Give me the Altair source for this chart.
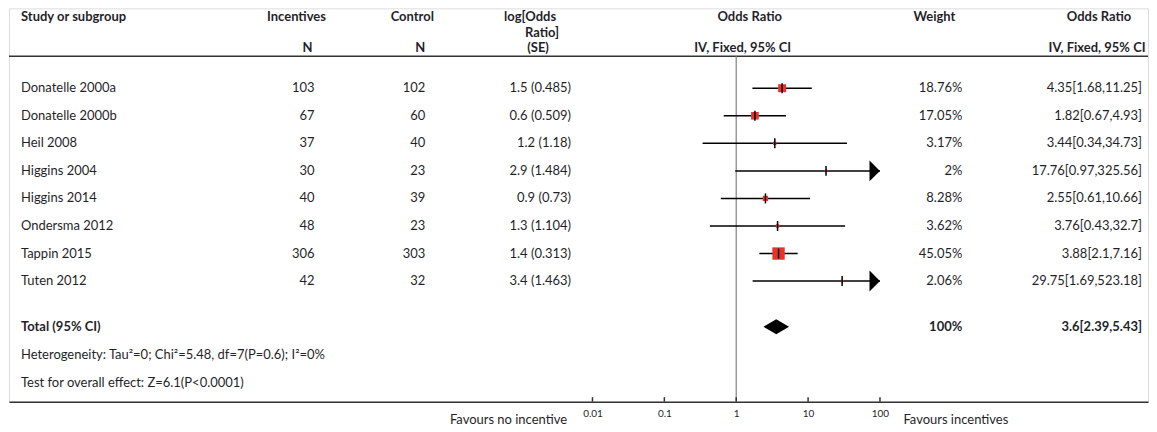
import altair as alt
import pandas as pd

# ---------------- data ----------------
studies = ["Donatelle 2000a", "Donatelle 2000b", "Heil 2008", "Higgins 2004",
           "Higgins 2014", "Ondersma 2012", "Tappin 2015", "Tuten 2012"]
n_incentives = [103, 67, 37, 30, 40, 48, 306, 42]
n_control = [102, 60, 40, 23, 39, 23, 303, 32]
log_or = [1.5, 0.6, 1.2, 2.9, 0.9, 1.3, 1.4, 3.4]
log_se = [0.485, 0.509, 1.18, 1.484, 0.73, 1.104, 0.313, 1.463]
weights = [18.76, 17.05, 3.17, 2, 8.28, 3.62, 45.05, 2.06]
or_est = [4.35, 1.82, 3.44, 17.76, 2.55, 3.76, 3.88, 29.75]
ci_low = [1.68, 0.67, 0.34, 0.97, 0.61, 0.43, 2.1, 1.69]
ci_high = [11.25, 4.93, 34.73, 325.56, 10.66, 32.7, 7.16, 523.18]

total_label = "Total (95% CI)"
total_weight = 100
total_est, total_low, total_high = 3.6, 2.39, 5.43
heterogeneity = "Heterogeneity: Tau²=0; Chi²=5.48, df=7(P=0.6); I²=0%"
overall = "Test for overall effect: Z=6.1(P<0.0001)"
axis_ticks = [0.01, 0.1, 1, 10, 100]
favours_left = "Favours no incentive"
favours_right = "Favours incentives"

# ---------------- layout ----------------
W, H = 1141, 394
FONT = "Lato"
FS = 13
TXT = "#1f1f2b"
RED = "#e8322b"
ROW_PX = 27.6
FIRST_PX = 80.0
y0 = -FIRST_PX / ROW_PX
y1 = y0 + H / ROW_PX
PX_DEC = 72.0
ONE_PX = 728.5
xa = -ONE_PX / PX_DEC
xb = xa + W / PX_DEC
AX_MAX = 100


def row_of(page_y):
    return (page_y - 8 - FIRST_PX) / ROW_PX


xs = alt.Scale(type="log", domain=[10 ** xa, 10 ** xb], nice=False)
ys = alt.Scale(domain=[y0, y1], reverse=True, nice=False, zero=False)
XAX = alt.Axis(values=axis_ticks, format="~g", title=None, ticks=False, grid=False,
               domain=True, domainColor="#333333", domainWidth=1.6,
               labelFont=FONT, labelFontSize=10, labelColor=TXT, labelPadding=7,
               labelFlush=False)

df = pd.DataFrame({
    "study": studies, "ninc": n_incentives, "nctl": n_control,
    "lor": [f"{a:g} ({b:g})" for a, b in zip(log_or, log_se)],
    "w": weights, "wlab": [f"{w:g}%" for w in weights],
    "est": or_est, "lo": ci_low, "hi": ci_high,
    "hi_c": [min(h, AX_MAX) for h in ci_high],
    "orlab": [f"{e:g}[{l:g},{h:g}]" for e, l, h in zip(or_est, ci_low, ci_high)],
    "row": list(range(len(studies))),
})

Y = alt.Y("row:Q", scale=ys, axis=None)


def text_layer(data, field, xpx, align="left", bold=False, size=FS, ycol="row"):
    return alt.Chart(data).mark_text(
        align=align, baseline="middle", font=FONT, fontSize=size,
        fontWeight="bold" if bold else "normal", color=TXT
    ).encode(x=alt.value(xpx), y=alt.Y(f"{ycol}:Q", scale=ys, axis=None),
             text=f"{field}:N")


layers = []

# header texts
h1, h2, h3 = row_of(17), row_of(33), row_of(48)
headers = [
    ("Study or subgroup", 12, "left", h1),
    ("Incentives", 288, "center", h1), ("N", 299, "center", h3),
    ("Control", 404, "center", h1), ("N", 412, "center", h3),
    ("log[Odds", 522, "center", h1), ("Ratio]", 534, "center", h2),
    ("(SE)", 530, "center", h3),
    ("Odds Ratio", 742, "center", h1), ("IV, Fixed, 95% CI", 735, "center", h3),
    ("Weight", 927, "center", h1),
    ("Odds Ratio", 1092, "center", h1), ("IV, Fixed, 95% CI", 1090, "center", h3),
]
for txt, xp, al, r in headers:
    layers.append(text_layer(pd.DataFrame({"t": [txt], "row": [r]}), "t", xp, al, bold=True))

# header separator line
hline_row = row_of(56)
layers.append(alt.Chart(pd.DataFrame({"row": [hline_row]})).mark_rule(
    color="#333333", strokeWidth=1.6).encode(x=alt.value(0), x2=alt.value(W), y=Y))

# null line at OR = 1
layers.append(alt.Chart(pd.DataFrame({"x": [1], "ya": [hline_row], "yb": [y1]})).mark_rule(
    color="#8a8a8a", strokeWidth=1.3).encode(
    x=alt.X("x:Q", scale=xs, axis=XAX), y=alt.Y("ya:Q", scale=ys, axis=None), y2="yb:Q"))

# study text columns
layers.append(text_layer(df, "study", 12, "left"))
layers.append(text_layer(df, "ninc", 306, "right"))
layers.append(text_layer(df, "nctl", 417, "right"))
layers.append(text_layer(df, "lor", 563, "right"))
layers.append(text_layer(df, "wlab", 955, "right"))
layers.append(text_layer(df, "orlab", 1135, "right"))

# CI lines
layers.append(alt.Chart(df).mark_rule(color="black", strokeWidth=1.5).encode(
    x=alt.X("lo:Q", scale=xs, axis=XAX), x2="hi_c:Q", y=Y))

# weight squares
layers.append(alt.Chart(df).mark_point(shape="square", filled=True, color=RED, opacity=1).encode(
    x=alt.X("est:Q", scale=xs, axis=XAX), y=Y,
    size=alt.Size("w:Q", scale=alt.Scale(domain=[0, 50], range=[0, 170]), legend=None)))

# estimate ticks
layers.append(alt.Chart(df).mark_tick(orient="vertical", color="black", thickness=1.5,
                                      size=10, opacity=1).encode(
    x=alt.X("est:Q", scale=xs, axis=XAX), y=Y))

# arrows for CIs beyond the axis
arrows = df[df["hi"] > AX_MAX].assign(xa=AX_MAX)
layers.append(alt.Chart(arrows).mark_point(shape="M-1,-1L0,0L-1,1Z", filled=True,
                                           color="black", size=441, opacity=1).encode(
    x=alt.X("xa:Q", scale=xs, axis=XAX), y=Y))

# total row
total_row = row_of(327)
tot = pd.DataFrame({"t": [total_label], "w": [f"{total_weight:g}%"],
                    "o": [f"{total_est:g}[{total_low:g},{total_high:g}]"], "row": [total_row]})
layers.append(text_layer(tot, "t", 12, "left", bold=True))
layers.append(text_layer(tot, "w", 955, "right", bold=True))
layers.append(text_layer(tot, "o", 1135, "right", bold=True))

hh = 7.5 / ROW_PX
diamond = pd.DataFrame({"x": [total_low, total_est, total_high],
                        "ya": [total_row, total_row - hh, total_row],
                        "yb": [total_row, total_row + hh, total_row]})
layers.append(alt.Chart(diamond).mark_area(color="black", orient="vertical", opacity=1).encode(
    x=alt.X("x:Q", scale=xs, axis=XAX), y=alt.Y("ya:Q", scale=ys, axis=None), y2="yb:Q"))

# footnotes
layers.append(text_layer(pd.DataFrame({"t": [heterogeneity], "row": [row_of(355)]}), "t", 12, "left"))
layers.append(text_layer(pd.DataFrame({"t": [overall], "row": [row_of(383)]}), "t", 12, "left"))

# axis ticks pointing up
tk = pd.DataFrame({"x": axis_ticks, "ya": [y1] * len(axis_ticks),
                   "yb": [y1 - 4.5 / ROW_PX] * len(axis_ticks)})
layers.append(alt.Chart(tk).mark_rule(color="#333333", strokeWidth=1.5).encode(
    x=alt.X("x:Q", scale=xs, axis=XAX), y=alt.Y("ya:Q", scale=ys, axis=None), y2="yb:Q"))

# favours labels
fav_row = row_of(420)
layers.append(text_layer(pd.DataFrame({"t": [favours_left], "row": [fav_row]}), "t", 559, "right"))
layers.append(text_layer(pd.DataFrame({"t": [favours_right], "row": [fav_row]}), "t", 896, "left"))

chart = alt.layer(*layers).properties(width=W, height=H, padding=0).configure_view(
    stroke=None).configure(background="white")

chart.save("out.html", embed_options={"renderer": "svg", "actions": False})
